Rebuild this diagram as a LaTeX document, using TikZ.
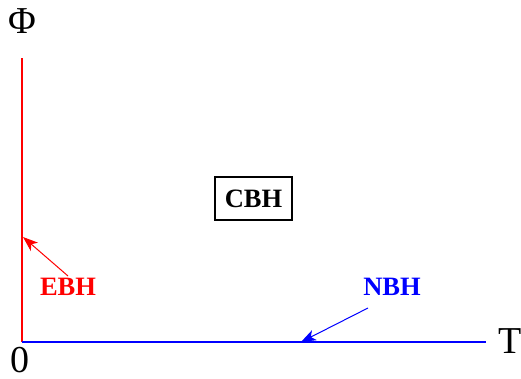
\documentclass[tikz,border=0pt]{standalone}
\usepackage{fontspec}
\setmainfont{Liberation Serif}
\usetikzlibrary{arrows.meta}
\begin{document}
\begin{tikzpicture}[x=1pt,y=1pt,
  axislabel/.style={font=\fontsize{38}{40}\selectfont, inner sep=0pt},
  phaselabel/.style={font=\fontsize{26.5}{28}\selectfont\bfseries, inner sep=0pt},
  pointer/.style={line width=1pt, -{Stealth[length=15pt,width=11pt,inset=4pt]}}]
\useasboundingbox (0,0) rectangle (521,378);
\coordinate (O) at (22,36);
\coordinate (Ytop) at (22,320);
\coordinate (Xend) at (486,36);
\draw[red, line width=2pt] (O) -- (Ytop);
\draw[blue, line width=2pt] (O) -- (Xend);
\node[axislabel] (phi) at (22,357) {Φ};
\node[axislabel] (zero) at (20,18) {0};
\node[axislabel] (T) at (510,37) {T};
\node[phaselabel, draw=black, line width=1.3pt, minimum width=77pt, minimum height=43pt] (cbh) at (253.5,179.5) {CBH};
\node[phaselabel, text=red] (ebh) at (68,91) {EBH};
\node[phaselabel, text=blue] (nbh) at (392,91) {NBH};
\coordinate (ebhtip) at (23,141);
\coordinate (nbhtip) at (301,36);
\draw[pointer, red] (68,102) -- (ebhtip);
\draw[pointer, blue] (368,70) -- (nbhtip);
\end{tikzpicture}
\end{document}
